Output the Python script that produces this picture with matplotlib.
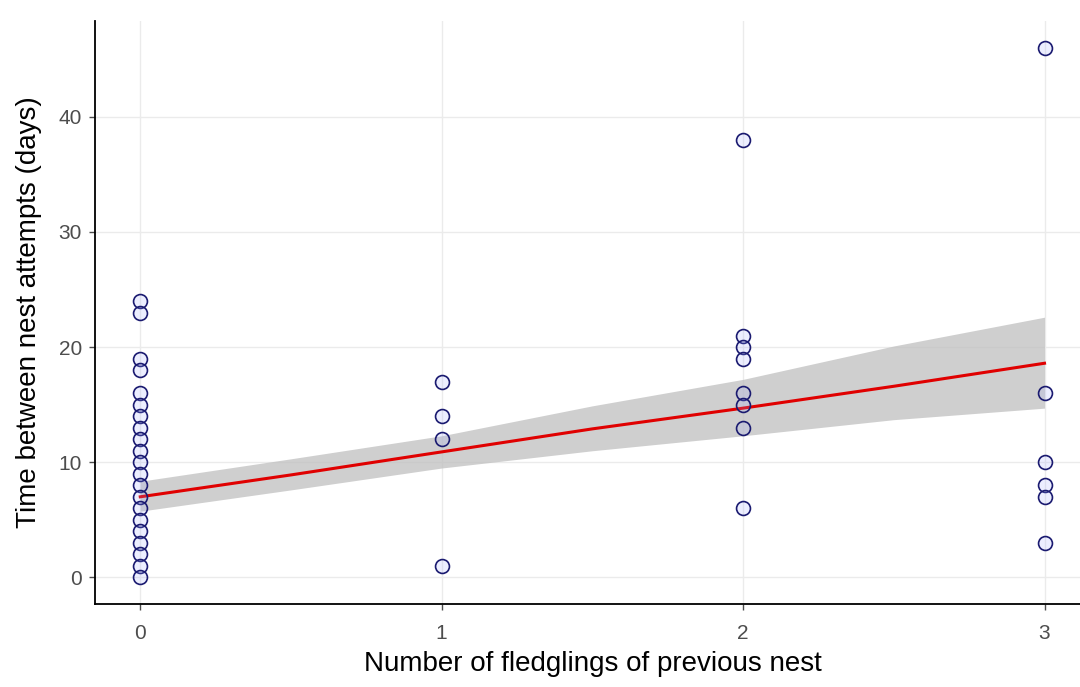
import matplotlib
matplotlib.use("Agg")
import matplotlib.pyplot as plt

# 데이터
fledglings = [0]*21 + [1]*4 + [2]*8 + [3]*6
days = [24, 23, 19, 18, 16, 15, 14, 13, 12, 11, 10, 9, 8, 7, 6, 5, 4, 3, 2, 1, 0,
        17, 14, 12, 1,
        38, 21, 20, 19, 16, 15, 13, 6,
        46, 16, 10, 8, 7, 3]

# 회귀선과 신뢰구간
fit_x = [0, 0.5, 1, 1.5, 2, 2.5, 3]
fit_y = [7.0, 8.9, 10.9, 12.9, 14.7, 16.6, 18.6]
fit_lo = [5.75, 7.6, 9.5, 11.0, 12.3, 13.7, 14.7]
fit_hi = [8.35, 10.3, 12.3, 14.9, 17.2, 20.1, 22.6]

plt.rcParams['font.family'] = ['Liberation Sans', 'DejaVu Sans']

fig = plt.figure(figsize=(10.8, 6.87), dpi=100)
ax = fig.add_axes([0.088, 0.121, 0.921, 0.848])

ax.fill_between(fit_x, fit_lo, fit_hi, color="#bfbfbf", alpha=0.75, lw=0, zorder=2)
ax.plot(fit_x, fit_y, color="#e00000", lw=2.2, zorder=3)
ax.scatter(fledglings, days, s=100, facecolor=(0.6, 0.65, 1.0, 0.18),
           edgecolor="#1a1a70", linewidth=1.2, zorder=4)

ax.set_xlim(-0.15, 3.15)
ax.set_ylim(-2.3, 48.3)
ax.set_xticks([0, 1, 2, 3])
ax.set_yticks([0, 10, 20, 30, 40])
ax.grid(True, color="#ebebeb", lw=1.0, zorder=0)
ax.set_axisbelow(True)

for s in ["top", "right"]:
    ax.spines[s].set_visible(False)
for s in ["left", "bottom"]:
    ax.spines[s].set_linewidth(1.3)
ax.tick_params(colors="#4d4d4d", labelsize=15, length=4.5, width=1.0)
ax.tick_params(axis="x", pad=10)
ax.tick_params(axis="y", pad=5)

ax.set_xlabel("Number of fledglings of previous nest", fontsize=20, labelpad=6)
ax.set_ylabel("Time between nest attempts (days)", fontsize=20, labelpad=12)

plt.savefig("out.png", dpi=100)
